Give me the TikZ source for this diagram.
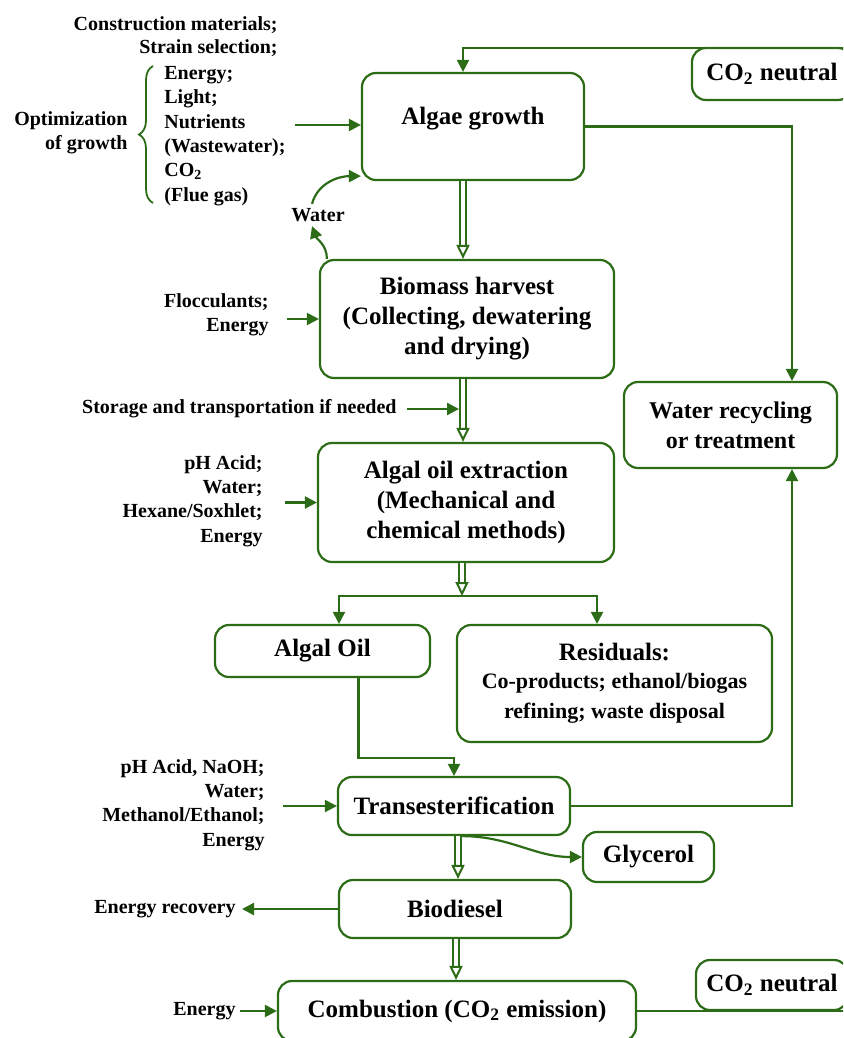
\documentclass[tikz,border=0pt]{standalone}
\usepackage{fontspec}
\setmainfont{Liberation Serif}
\usetikzlibrary{positioning,arrows.meta,decorations.pathreplacing}

\begin{document}
\begin{tikzpicture}[x=.5pt,y=-.5pt]
  % some colors
  \definecolor{leaf}{RGB}{44,108,22}
  % some styles
  \tikzset{
    box/.style={
      draw=leaf,
      line width=1.1pt,
      rounded corners=7pt,
      fill=white,
      align=center,
      inner sep=2pt,
      font=\bfseries\fontsize{12.5}{15}\selectfont,
    },
    tag/.style={inner sep=1pt,font=\bfseries\fontsize{10}{12.2}\selectfont},
    link/.style={leaf,line width=1.1pt,-{Triangle[length=6pt,width=6pt]}},
    wire/.style={leaf,line width=1.1pt},
    flow/.style={draw=leaf,line width=1pt,double=white,double distance=1.6pt,
      -{Triangle[open,length=7pt,width=6.5pt,fill=white]}},
  }
  \useasboundingbox (0,0) rectangle (843,1038);
  \clip (0,0) rectangle (843,1038);
  % process boxes
  \node[box,minimum width=111pt,minimum height=53.5pt] (growth) at (473,126.5)
    {Algae growth\\[-4pt]\mbox{}};
  \node[box,minimum width=80pt,minimum height=26pt] (co2top) at (772,74)
    {CO\textsubscript{2} neutral};
  \node[box,minimum width=147pt,minimum height=59pt] (harvest) at (467,319)
    {Biomass harvest\\(Collecting, dewatering\\and drying)};
  \node[box,minimum width=106.5pt,minimum height=43pt,font=\bfseries\fontsize{12}{15}\selectfont]
    (recycle) at (730.5,425) {Water recycling\\or treatment};
  \node[box,minimum width=148pt,minimum height=59.5pt] (extract) at (466,502.5)
    {Algal oil extraction\\(Mechanical and\\chemical methods)};
  \node[box,minimum width=107.5pt,minimum height=26pt] (oil) at (322.5,651) {Algal Oil};
  \node[box,minimum width=157.5pt,minimum height=58.5pt] (resid) at (614.5,683.5)
    {Residuals:\\[-1pt]{\fontsize{11}{14}\selectfont Co-products; ethanol/biogas}\\
     {\fontsize{11}{14}\selectfont refining; waste disposal}};
  \node[box,minimum width=116pt,minimum height=29pt] (trans) at (454,806) {Transesterification};
  \node[box,minimum width=65.5pt,minimum height=25pt] (glyc) at (648.5,857) {Glycerol};
  \node[box,minimum width=116pt,minimum height=29pt] (biod) at (455,909) {Biodiesel};
  \node[box,minimum width=179pt,minimum height=30pt] (comb) at (457,1011)
    {Combustion (CO\textsubscript{2} emission)};
  \node[box,minimum width=76pt,minimum height=25pt] (co2bot) at (772,985)
    {CO\textsubscript{2} neutral};
  % inputs and outputs
  \node[tag,anchor=east] (cons) at (280,25) {Construction materials;};
  \node[tag,anchor=east] (strain) at (280,48) {Strain selection;};
  \node[tag,anchor=east,align=right] (optim) at (130,132.5) {Optimization\\of growth};
  \node[tag,anchor=west,align=left] (list) at (162,136)
    {Energy;\\Light;\\Nutrients\\(Wastewater);\\CO\textsubscript{2}\\(Flue gas)};
  \node[tag,inner sep=2pt] (water) at (318,215) {Water};
  \node[tag,anchor=east,align=right] (floc) at (271,315) {Flocculants;\\Energy};
  \node[tag,anchor=east] (storage) at (399,409) {Storage and transportation if needed};
  \node[tag,anchor=east,align=right] (exin) at (265,501)
    {pH Acid;\\Water;\\Hexane/Soxhlet;\\Energy};
  \node[tag,anchor=east,align=right] (trin) at (267,805)
    {pH Acid, NaOH;\\Water;\\Methanol/Ethanol;\\Energy};
  \node[tag,anchor=east] (recov) at (238,909) {Energy recovery};
  \node[tag,anchor=east] (energy) at (238,1011) {Energy};
  % brace of the growth factors
  \draw[leaf,line width=.9pt,decorate,decoration={brace,amplitude=7pt}] (153,203) -- (153,66);
  % main line
  \draw[flow] ([xshift=-5pt]growth.south) -- ([xshift=-5pt]growth.south |- harvest.north);
  \draw[flow] ([xshift=-2pt]harvest.south) -- ([xshift=-2pt]harvest.south |- extract.north);
  \coordinate (split) at (462,596);
  \draw[flow] ([xshift=-2pt]extract.south) -- (split);
  \draw[link] (split) -| ([xshift=8.25pt]oil.north);
  \draw[link] (split) -| ([xshift=-8.75pt]resid.north);
  \draw[link] ([xshift=18pt]oil.south) |- ([yshift=9pt]trans.north) -- (trans.north);
  \draw[flow] ([xshift=2pt]trans.south) -- ([xshift=2pt]trans.south |- biod.north);
  \draw[flow] ([xshift=.5pt]biod.south) -- ([xshift=.5pt]biod.south |- comb.north);
  \draw[link] ([xshift=4pt]trans.south) to[out=0,in=180] (glyc.west);
  % inputs
  \coordinate (g-in) at (295,125);
  \draw[link] (g-in) -- (g-in -| growth.west);
  \draw[link] ([xshift=8pt]floc.east |- harvest.west) -- (harvest.west);
  \draw[link] ([xshift=4pt]storage.east) -- ([xshift=-4pt]harvest.south |- storage.east);
  \draw[link] ([xshift=10pt]exin.east |- extract.west) -- (extract.west);
  \draw[link] ([xshift=8pt]trin.east |- trans.west) -- (trans.west);
  \draw[link] (biod.west) -- ([xshift=2pt]recov.east);
  \draw[link] ([xshift=1pt]energy.east) -- (comb.west);
  % water loop
  \draw[link] ([xshift=4pt]harvest.north west) to[out=90,in=-70] ([xshift=-3pt]water.south);
  \draw[link] ([xshift=-3pt]water.north) to[out=75,in=180] ([yshift=2.5pt]growth.south west);
  \draw[link] (growth.east) -| ([xshift=30.75pt]recycle.north);
  \draw[link] (trans.east) -| ([xshift=30.75pt]recycle.south);
  % carbon loop
  \coordinate (rim-top) at (860,48);
  \coordinate (rim-bot) at (860,1010);
  \draw[link] (rim-top) -| ([xshift=-5pt]growth.north);
  \draw[wire] (comb.east) -- (comb.east -| rim-bot);
\end{tikzpicture}
\end{document}
